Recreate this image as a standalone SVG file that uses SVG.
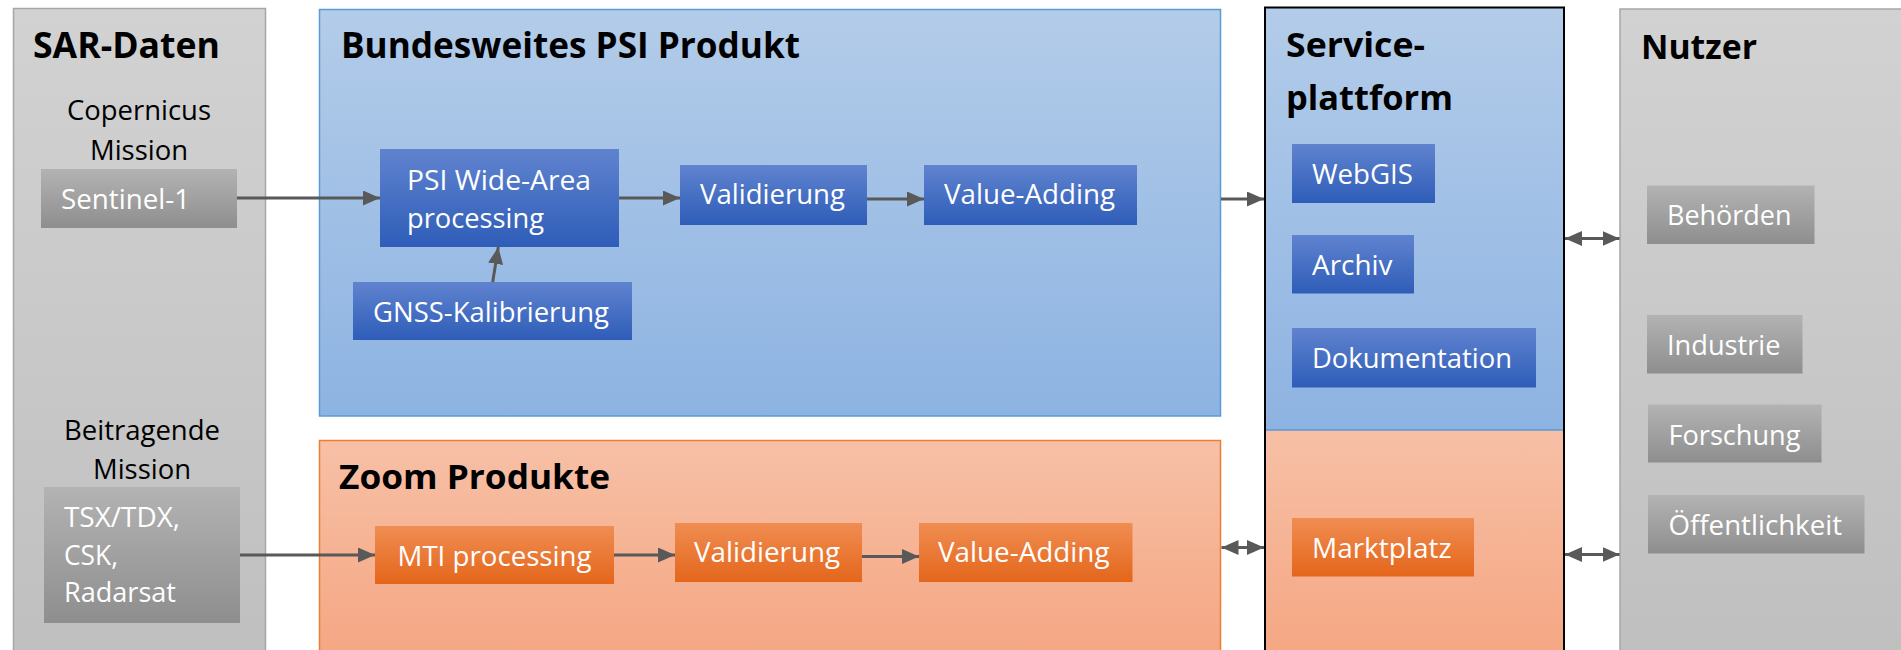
<svg xmlns="http://www.w3.org/2000/svg" width="1901" height="650" viewBox="0 0 1901 650">
<defs>
  <linearGradient id="gPanelGrey" x1="0" y1="0" x2="0" y2="1"><stop offset="0" stop-color="#d2d2d2"/><stop offset="1" stop-color="#bfbfbf"/></linearGradient>
  <linearGradient id="gBoxGrey" x1="0" y1="0" x2="0" y2="1"><stop offset="0" stop-color="#b3b3b3"/><stop offset="1" stop-color="#8e8e8e"/></linearGradient>
  <linearGradient id="gPanelBlue" x1="0" y1="0" x2="0" y2="1"><stop offset="0" stop-color="#b3cce9"/><stop offset="1" stop-color="#8db3e2"/></linearGradient>
  <linearGradient id="gBoxBlue" x1="0" y1="0" x2="0" y2="1"><stop offset="0" stop-color="#6083cf"/><stop offset="1" stop-color="#2e5db8"/></linearGradient>
  <linearGradient id="gPanelOrange" x1="0" y1="0" x2="0" y2="1"><stop offset="0" stop-color="#f7c0a6"/><stop offset="1" stop-color="#f5a682"/></linearGradient>
  <linearGradient id="gBoxOrange" x1="0" y1="0" x2="0" y2="1"><stop offset="0" stop-color="#f08d52"/><stop offset="1" stop-color="#e4661b"/></linearGradient>
  <marker id="ah" markerUnits="userSpaceOnUse" markerWidth="18" markerHeight="16" refX="17" refY="7.5" orient="auto-start-reverse">
    <path d="M0,0 L17,7.5 L0,15 z" fill="#595959"/>
  </marker>
</defs>
<style>
  text{font-family:"Open Sans","Liberation Sans",sans-serif}
  .title{font-weight:bold;font-size:36px;fill:#000}
  .title2{font-weight:bold;font-size:34px;fill:#000}
  .lbl{font-size:28px;fill:#000}
  .w{font-size:28px;fill:#fff}
  .panelGrey{fill:url(#gPanelGrey);stroke:#a6a6a6;stroke-width:1.5}
  .boxGrey{fill:url(#gBoxGrey)}
  .boxBlue{fill:url(#gBoxBlue)}
  .boxOrange{fill:url(#gBoxOrange)}
  .conn{stroke:#595959;stroke-width:3;fill:none;marker-end:url(#ah)}
  .bi{marker-start:url(#ah)}
</style>

<g id="sar-daten">
  <rect class="panelGrey" x="13.5" y="8.5" width="252" height="660"/>
  <text class="title" x="33" y="58" textLength="187" lengthAdjust="spacingAndGlyphs">SAR-Daten</text>
  <text class="lbl" x="67" y="120" textLength="144" lengthAdjust="spacingAndGlyphs">Copernicus</text>
  <text class="lbl" x="90" y="160" textLength="98" lengthAdjust="spacingAndGlyphs">Mission</text>
  <text class="lbl" x="64" y="440" textLength="156" lengthAdjust="spacingAndGlyphs">Beitragende</text>
  <text class="lbl" x="93" y="479" textLength="98" lengthAdjust="spacingAndGlyphs">Mission</text>
</g>
<g id="sentinel-1">
  <rect class="boxGrey" x="41" y="169" width="196" height="59"/>
  <text class="w" x="61" y="208.5" textLength="129" lengthAdjust="spacingAndGlyphs">Sentinel-1</text>
</g>
<g id="tsx-tdx">
  <rect class="boxGrey" x="44" y="487" width="196" height="136"/>
  <text class="w" x="64" y="527" textLength="116" lengthAdjust="spacingAndGlyphs">TSX/TDX,</text>
  <text class="w" x="64" y="565" textLength="54" lengthAdjust="spacingAndGlyphs">CSK,</text>
  <text class="w" x="64" y="602" textLength="112" lengthAdjust="spacingAndGlyphs">Radarsat</text>
</g>

<g id="psi-produkt">
  <rect x="319.5" y="9.5" width="901" height="406.5" fill="url(#gPanelBlue)" stroke="#5b9bd5" stroke-width="1.5"/>
  <text class="title" x="341" y="58" textLength="459" lengthAdjust="spacingAndGlyphs">Bundesweites PSI Produkt</text>
</g>
<g id="psi-wide-area">
  <rect class="boxBlue" x="380" y="149" width="239" height="98"/>
  <text class="w" x="407" y="190" textLength="184" lengthAdjust="spacingAndGlyphs">PSI Wide-Area</text>
  <text class="w" x="407" y="228" textLength="137" lengthAdjust="spacingAndGlyphs">processing</text>
</g>
<g id="validierung-psi">
  <rect class="boxBlue" x="680" y="165" width="187" height="60"/>
  <text class="w" x="700" y="204" textLength="145" lengthAdjust="spacingAndGlyphs">Validierung</text>
</g>
<g id="value-adding-psi">
  <rect class="boxBlue" x="924" y="165" width="213" height="60"/>
  <text class="w" x="944" y="204" textLength="171" lengthAdjust="spacingAndGlyphs">Value-Adding</text>
</g>
<g id="gnss">
  <rect class="boxBlue" x="353" y="282" width="279" height="58"/>
  <text class="w" x="373" y="321.5" textLength="236" lengthAdjust="spacingAndGlyphs">GNSS-Kalibrierung</text>
</g>

<g id="zoom-produkte">
  <rect x="319.5" y="440.5" width="901" height="220" fill="url(#gPanelOrange)" stroke="#ed7d31" stroke-width="1.5"/>
  <text class="title2" x="339" y="489" textLength="271" lengthAdjust="spacingAndGlyphs">Zoom Produkte</text>
</g>
<g id="mti">
  <rect class="boxOrange" x="375" y="526" width="239" height="58"/>
  <text class="w" x="397.5" y="565.5" textLength="194" lengthAdjust="spacingAndGlyphs">MTI processing</text>
</g>
<g id="validierung-zoom">
  <rect class="boxOrange" x="675" y="523" width="187" height="59"/>
  <text class="w" x="694" y="561.5" textLength="146" lengthAdjust="spacingAndGlyphs">Validierung</text>
</g>
<g id="value-adding-zoom">
  <rect class="boxOrange" x="919" y="523" width="213.5" height="59"/>
  <text class="w" x="938" y="561.5" textLength="171.5" lengthAdjust="spacingAndGlyphs">Value-Adding</text>
</g>

<g id="serviceplattform">
  <rect x="1265" y="7.5" width="299" height="423" fill="url(#gPanelBlue)"/>
  <rect x="1265" y="430" width="299" height="230" fill="url(#gPanelOrange)"/>
  <line x1="1265" y1="430" x2="1564" y2="430" stroke="#5b9bd5" stroke-width="1.5"/>
  <rect x="1265" y="7.5" width="299" height="660" fill="none" stroke="#000" stroke-width="2"/>
  <text class="title2" x="1286" y="57" textLength="139" lengthAdjust="spacingAndGlyphs">Service-</text>
  <text class="title2" x="1286" y="110" textLength="167" lengthAdjust="spacingAndGlyphs">plattform</text>
</g>
<g id="webgis">
  <rect class="boxBlue" x="1292" y="144" width="143" height="59"/>
  <text class="w" x="1312" y="183.5" textLength="101" lengthAdjust="spacingAndGlyphs">WebGIS</text>
</g>
<g id="archiv">
  <rect class="boxBlue" x="1292" y="235" width="122" height="58.5"/>
  <text class="w" x="1312" y="275" textLength="80.5" lengthAdjust="spacingAndGlyphs">Archiv</text>
</g>
<g id="dokumentation">
  <rect class="boxBlue" x="1292" y="328" width="244" height="59.5"/>
  <text class="w" x="1312" y="368" textLength="200" lengthAdjust="spacingAndGlyphs">Dokumentation</text>
</g>
<g id="marktplatz">
  <rect class="boxOrange" x="1292" y="518" width="182" height="58.5"/>
  <text class="w" x="1312" y="557.5" textLength="139.5" lengthAdjust="spacingAndGlyphs">Marktplatz</text>
</g>

<g id="nutzer">
  <rect class="panelGrey" x="1620" y="9" width="290" height="660"/>
  <text class="title2" x="1641" y="59" textLength="116" lengthAdjust="spacingAndGlyphs">Nutzer</text>
</g>
<g id="behoerden">
  <rect class="boxGrey" x="1647" y="185.5" width="167.5" height="58.5"/>
  <text class="w" x="1667" y="225" textLength="124.5" lengthAdjust="spacingAndGlyphs">Behörden</text>
</g>
<g id="industrie">
  <rect class="boxGrey" x="1647" y="315" width="155.5" height="58.5"/>
  <text class="w" x="1667" y="355" textLength="113.5" lengthAdjust="spacingAndGlyphs">Industrie</text>
</g>
<g id="forschung">
  <rect class="boxGrey" x="1648" y="404.5" width="173.5" height="58"/>
  <text class="w" x="1668.5" y="444.5" textLength="132" lengthAdjust="spacingAndGlyphs">Forschung</text>
</g>
<g id="oeffentlichkeit">
  <rect class="boxGrey" x="1648" y="495" width="216.5" height="58.5"/>
  <text class="w" x="1668.5" y="535" textLength="173.5" lengthAdjust="spacingAndGlyphs">Öffentlichkeit</text>
</g>

<g id="connectors">
  <path class="conn" d="M237,198 L380,198"/>
  <path class="conn" d="M619,198 L680,198"/>
  <path class="conn" d="M867,199 L924,199"/>
  <path class="conn" d="M492.7,282 L498.3,247"/>
  <path class="conn" d="M1221,199 L1264,199"/>
  <path class="conn" d="M240,555 L375,555"/>
  <path class="conn" d="M614,555 L675,555"/>
  <path class="conn" d="M862,556.5 L919,556.5"/>
  <path class="conn bi" d="M1221.5,547.5 L1264,547.5"/>
  <path class="conn bi" d="M1565,238.5 L1619.5,238.5"/>
  <path class="conn bi" d="M1565,554.5 L1619.5,554.5"/>
</g>
</svg>
